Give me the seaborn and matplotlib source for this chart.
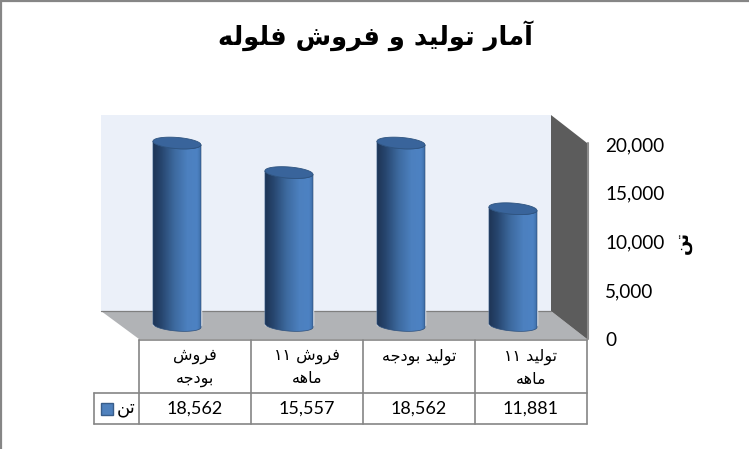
import numpy as np
import pandas as pd
import seaborn as sns
import matplotlib
matplotlib.use("Agg")
import matplotlib.pyplot as plt
from matplotlib.colors import LinearSegmentedColormap
from matplotlib.patches import Polygon, Rectangle, PathPatch
from matplotlib.path import Path

# chart values, in the order they appear from left to right
categories = ["فروش\nبودجه", "فروش ۱۱\nماهه", "تولید بودجه", "تولید ۱۱\nماهه"]
tons = [18562, 15557, 18562, 11881]
tick_values = [0, 5000, 10000, 15000, 20000]
title = "آمار تولید و فروش فلوله"
unit = "تن"

W, H = 749, 449

# presentation forms: isolated, final, initial, medial
FORMS = {
    "آ": "\uFE81\uFE82", "ا": "\uFE8D\uFE8E", "د": "\uFEA9\uFEAA", "ر": "\uFEAD\uFEAE",
    "و": "\uFEED\uFEEE",
    "ب": "\uFE8F\uFE90\uFE91\uFE92", "ت": "\uFE95\uFE96\uFE97\uFE98",
    "ج": "\uFE9D\uFE9E\uFE9F\uFEA0", "ش": "\uFEB5\uFEB6\uFEB7\uFEB8",
    "ف": "\uFED1\uFED2\uFED3\uFED4", "ل": "\uFEDD\uFEDE\uFEDF\uFEE0",
    "م": "\uFEE1\uFEE2\uFEE3\uFEE4", "ن": "\uFEE5\uFEE6\uFEE7\uFEE8",
    "ه": "\uFEE9\uFEEA\uFEEB\uFEEC", "ی": "\uFBFC\uFBFD\uFBFE\uFBFF",
}


def shape_word(word):
    out = []
    for i, ch in enumerate(word):
        if ch not in FORMS:
            out.append(ch)
            continue
        forms = FORMS[ch]
        prev = word[i - 1] if i > 0 else ""
        nxt = word[i + 1] if i < len(word) - 1 else ""
        joins_prev = prev in FORMS and len(FORMS[prev]) == 4
        joins_next = nxt in FORMS and len(forms) == 4
        if joins_prev and joins_next:
            out.append(forms[3])
        elif joins_prev:
            out.append(forms[1])
        elif joins_next:
            out.append(forms[2])
        else:
            out.append(forms[0])
    return "".join(reversed(out))


# matplotlib has no arabic shaping, so do it by hand and lay out right to left
def rtl(text):
    lines = []
    for line in text.split("\n"):
        lines.append(" ".join(shape_word(w) for w in reversed(line.split(" "))))
    return "\n".join(lines)


def px_axes(fig, left, top, right, bottom):
    return fig.add_axes([left / W, 1 - bottom / H, (right - left) / W, (bottom - top) / H])


sns.set_theme(style="white")
plt.rcParams["font.family"] = ["DejaVu Sans"]

fig = plt.figure(figsize=(W / 100, H / 100), dpi=100, facecolor="white")

''' ---------------- walls, floor and table frame, in pixels ---------------- '''
bg = fig.add_axes([0, 0, 1, 1])
bg.set_xlim(0, W)
bg.set_ylim(H, 0)
bg.axis("off")

bg.add_patch(Polygon([(101, 115), (551, 115), (551, 311), (101, 311)], fc="#ebf0f9", ec="none"))
bg.add_patch(Polygon([(101, 311), (551, 311), (587, 339), (139, 339)], fc="#b1b3b6", ec="none"))
bg.plot([101, 551], [310.5, 310.5], color="#7f7f7f", lw=0.9)
bg.add_patch(Polygon([(551, 115), (587, 143), (587, 339), (551, 311)], fc="#5c5c5c", ec="none"))
bg.plot([588, 588], [143, 339], color="#8c8c8c", lw=1.5)

line_color = "#858585"
col_edges = [139, 251, 363, 475, 587]
for x in col_edges:
    bg.plot([x, x], [340, 424], color=line_color, lw=1.2)
bg.plot([139, 587], [340, 340], color=line_color, lw=1.2)
bg.plot([94, 587], [392.5, 392.5], color=line_color, lw=1.2)
bg.plot([94, 587], [424, 424], color=line_color, lw=1.2)
bg.plot([94, 94], [392.5, 424], color=line_color, lw=1.2)

# picture frame, only the top and left edges are inside the crop
bg.plot([1, W], [1, 1], color="#868686", lw=1.6)
bg.plot([1, 1], [1, H], color="#868686", lw=1.6)

bg.text(375, 36, rtl(title), ha="center", va="center", fontsize=18.5,
        fontweight="bold", color="black")

for i, (cat, val) in enumerate(zip(categories, tons)):
    cx = (col_edges[i] + col_edges[i + 1]) / 2
    bg.text(cx, 349, rtl(cat), ha="center", va="top", fontsize=11.5, color="black",
            linespacing=1.55)
    bg.text(cx, 408.5, f"{val:,}", ha="center", va="center", fontsize=13,
            family="Lato", color="black")

bg.add_patch(Rectangle((101, 403), 12, 12, fc="#4f81bd", ec="#385d8a", lw=1))
bg.text(126, 408, rtl(unit), ha="center", va="center", fontsize=13, color="black")

''' ---------------- axis labels sit on the front plane ---------------- '''
front = px_axes(fig, 139, 144, 587, 339)
front.patch.set_alpha(0)
front.set_ylim(0, 20000)
front.set_xticks([])
front.yaxis.tick_right()
front.set_yticks(tick_values)
front.set_yticklabels([f"{v:,}" for v in tick_values], family="Lato", fontsize=13.6, color="black")
front.tick_params(axis="y", length=0, pad=13)
sns.despine(ax=front, left=True, right=True, top=True, bottom=True)
front.text(683, 242, rtl(unit), transform=bg.transData, rotation=90, ha="center",
           va="center", fontsize=13, fontweight="bold", color="black")

''' ---------------- the bars, then a cylinder look on top of them ---------------- '''
ax = px_axes(fig, 121, 128.9, 569, 335.3)
ax.patch.set_alpha(0)
df = pd.DataFrame({"cat": categories, "tons": tons})
sns.barplot(data=df, x="cat", y="tons", color="#4f81bd", width=48 / 112, saturation=1, ax=ax)
ax.set_xlim(-0.5, 3.5)
ax.set_ylim(-1000, 20000)
ax.axis("off")

cyl_cmap = LinearSegmentedColormap.from_list(
    "cyl", [(0, "#1e3555"), (0.18, "#27466f"), (0.45, "#3d6a9f"), (0.72, "#4c80bf"),
            (0.92, "#4d82c3"), (1, "#3f6fa9")])
gradient = np.tile(np.linspace(0, 1, 256), (4, 1))

units_per_px = 20000 / 196.6
ry = 5.6 * units_per_px
skew = 1.8 * units_per_px

for bar in list(ax.patches):
    x0, x1 = bar.get_x(), bar.get_x() + bar.get_width()
    cx, r = (x0 + x1) / 2, (x1 - x0) / 2
    top = bar.get_height()

    # bottom half of the base ellipse, then up to the top of the bar
    t = np.linspace(np.pi, 2 * np.pi, 60)
    base = np.column_stack([cx + r * np.cos(t), ry * np.sin(t) - skew * np.cos(t)])
    t2 = np.linspace(0, np.pi, 60)
    lid_back = np.column_stack([cx + r * np.cos(t2), top - ry * np.sin(t2) - skew * np.cos(t2)])
    verts = np.vstack([base, lid_back, base[:1]])
    body = Path(verts, closed=True)

    im = ax.imshow(gradient, cmap=cyl_cmap, extent=[x0, x1, -3 * ry, top + 3 * ry],
                   aspect="auto", interpolation="nearest", zorder=3)
    im.set_clip_path(PathPatch(body, transform=ax.transData))
    ax.add_patch(PathPatch(body, fc="none", ec="#2c4f7c", lw=0.5, zorder=4))

    t3 = np.linspace(0, 2 * np.pi, 120)
    lid = np.column_stack([cx + r * np.cos(t3), top + ry * np.sin(t3) - skew * np.cos(t3)])
    ax.add_patch(Polygon(lid, closed=True, fc="#39649b", ec="#2f5480", lw=0.6, zorder=5))

ax.set_xlim(-0.5, 3.5)
ax.set_ylim(-1000, 20000)

fig.savefig("out.png", dpi=100)
